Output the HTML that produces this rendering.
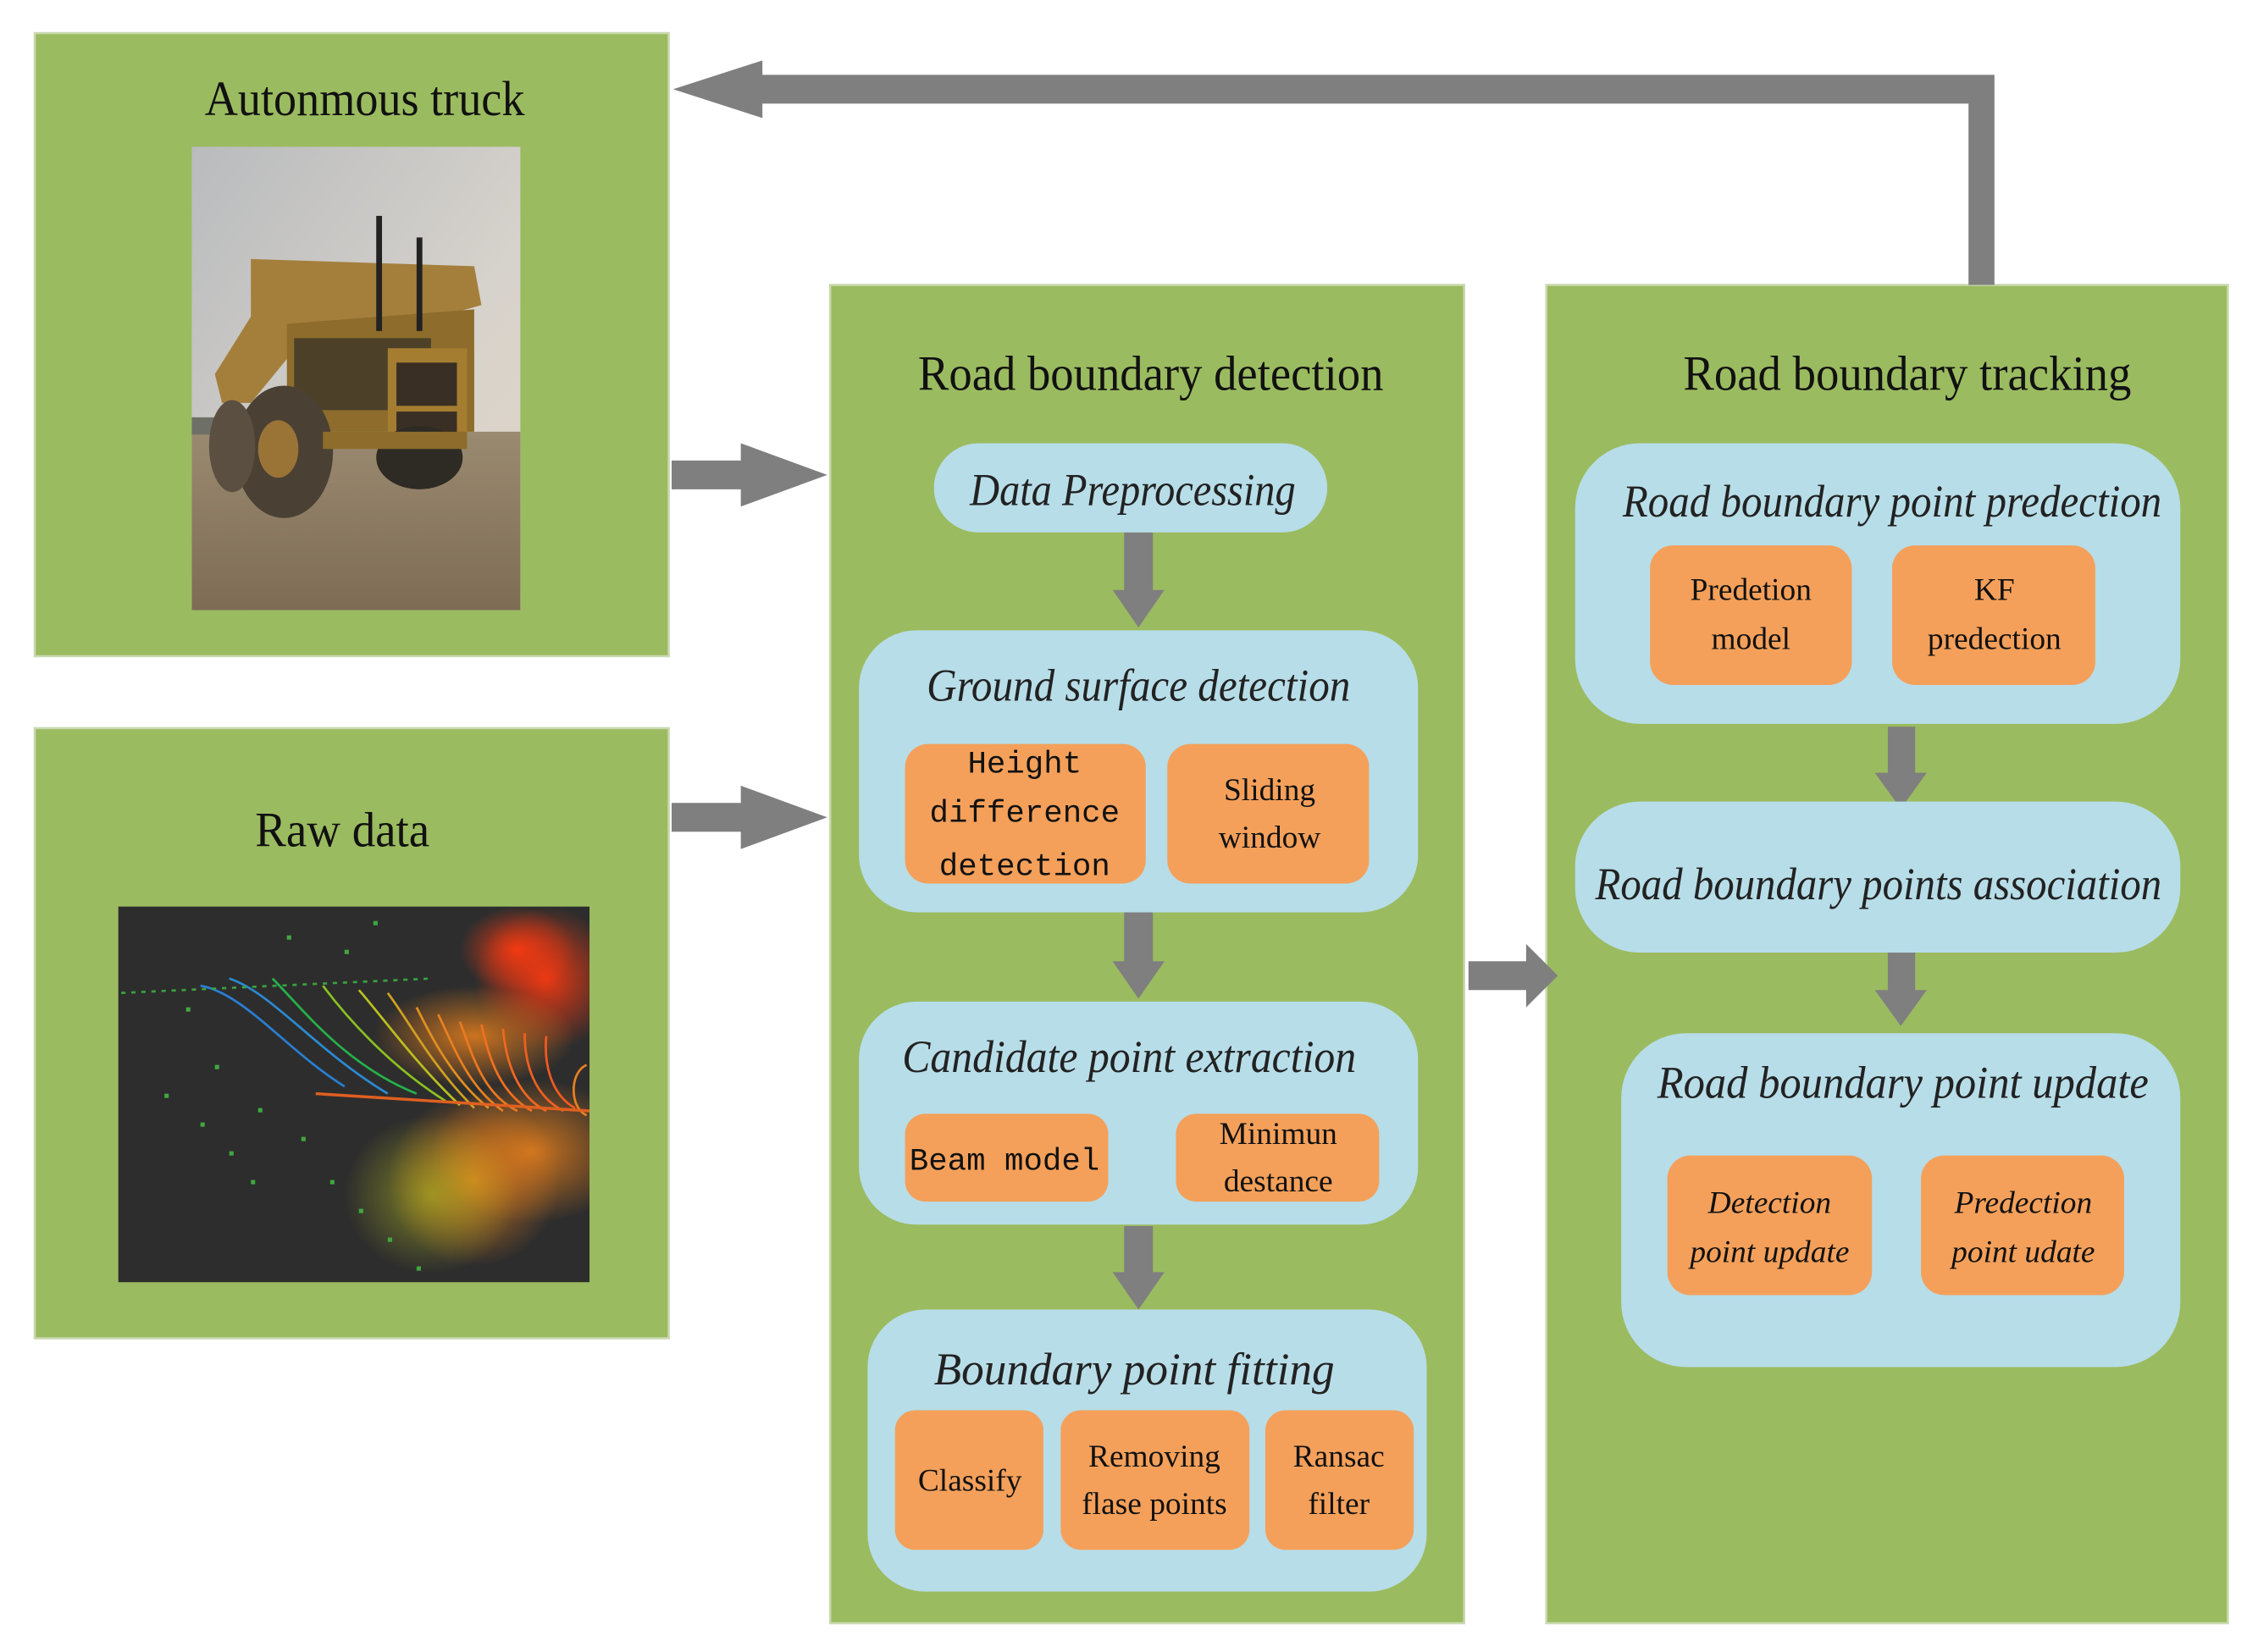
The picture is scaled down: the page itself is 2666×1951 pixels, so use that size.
<!DOCTYPE html>
<html><head><meta charset="utf-8"><style>
html,body{margin:0;padding:0;background:#fff;}
svg{display:block;}
text{font-family:"Liberation Serif",serif;fill:#111;}
.t{font-size:34px;}
.i{font-size:32px;font-style:italic;fill:#222;}
.o{font-size:22px;}
</style></head><body>
<svg width="2666" height="1951" viewBox="0.9 0 1567 1148" preserveAspectRatio="none" xmlns="http://www.w3.org/2000/svg">
<defs>
<linearGradient id="sky" x1="0" y1="0" x2="1" y2="1"><stop offset="0" stop-color="#b9bbbd"/><stop offset="0.6" stop-color="#d6d2cc"/><stop offset="1" stop-color="#e3d6c6"/></linearGradient>
<linearGradient id="gr" x1="0" y1="0" x2="0" y2="1"><stop offset="0" stop-color="#9a8a70"/><stop offset="1" stop-color="#7e6c55"/></linearGradient>
<radialGradient id="red" cx="0.5" cy="0.5" r="0.5"><stop offset="0" stop-color="#ff3a10" stop-opacity="0.9"/><stop offset="1" stop-color="#ff3a10" stop-opacity="0"/></radialGradient>
<radialGradient id="org" cx="0.5" cy="0.5" r="0.5"><stop offset="0" stop-color="#e8801c" stop-opacity="0.85"/><stop offset="1" stop-color="#e8801c" stop-opacity="0"/></radialGradient>
<radialGradient id="yel" cx="0.5" cy="0.5" r="0.5"><stop offset="0" stop-color="#b8c020" stop-opacity="0.6"/><stop offset="1" stop-color="#b8c020" stop-opacity="0"/></radialGradient>
<clipPath id="pc"><rect x="83" y="630" width="327" height="261"/></clipPath>
</defs>
<rect x="-10" y="-10" width="1600" height="1200" fill="#fff"/>
<g fill="#9bbb60" stroke="#c9d9b0" stroke-width="1.5">
<rect x="25" y="23" width="440" height="433"/>
<rect x="25" y="506" width="440" height="424"/>
<rect x="577" y="198" width="440" height="930"/>
<rect x="1074" y="198" width="473" height="930"/>
</g>
<rect x="134" y="102" width="228" height="322" fill="url(#sky)"/>
<rect x="134" y="300" width="228" height="124" fill="url(#gr)"/>
<rect x="134" y="290" width="30" height="12" fill="#6e7068"/>
<polygon points="175,180 330,185 335,212 300,222 220,225 175,280 155,280 150,260 175,220" fill="#a47f3c"/>
<polygon points="200,225 330,215 330,300 200,300" fill="#8d6c2c"/>
<rect x="205" y="235" width="95" height="50" fill="#3d3628" opacity="0.8"/>
<rect x="270" y="242" width="55" height="70" fill="#a57d30"/>
<rect x="276" y="252" width="42" height="30" fill="#3a2f24"/>
<rect x="276" y="286" width="42" height="22" fill="#3a2f24"/>
<rect x="262" y="150" width="4" height="80" fill="#222"/>
<rect x="290" y="165" width="4" height="65" fill="#222"/>
<ellipse cx="198" cy="314" rx="34" ry="46" fill="#4a4034"/>
<ellipse cx="194" cy="312" rx="14" ry="20" fill="#9a7436"/>
<ellipse cx="162" cy="310" rx="16" ry="32" fill="#5a4f40"/>
<ellipse cx="292" cy="318" rx="30" ry="22" fill="#2e2a24"/>
<rect x="225" y="300" width="100" height="12" fill="#8d6c2c"/>
<rect x="83" y="630" width="327" height="261" fill="#2d2d2d"/>
<g clip-path="url(#pc)">
<ellipse cx="380" cy="680" rx="50" ry="50" fill="url(#red)"/>
<ellipse cx="360" cy="660" rx="40" ry="30" fill="url(#red)"/>
<ellipse cx="370" cy="800" rx="70" ry="50" fill="url(#org)"/>
<ellipse cx="330" cy="820" rx="60" ry="60" fill="url(#org)"/>
<ellipse cx="300" cy="830" rx="60" ry="55" fill="url(#yel)"/>
<ellipse cx="330" cy="720" rx="70" ry="35" fill="url(#org)"/>
<g fill="none" stroke-width="1.6">
<path d="M140,685 C170,690 200,730 240,755" stroke="#2a7ed0"/>
<path d="M160,680 C190,690 220,730 270,760" stroke="#2a8ad0"/>
<path d="M190,680 C210,700 240,740 290,760" stroke="#26b04a"/>
<path d="M225,685 C240,705 270,740 310,765" stroke="#8ac020"/>
<path d="M250,688 C265,705 290,740 320,768" stroke="#b8c020"/>
<path d="M270,690 C285,710 300,740 330,770" stroke="#d0a020"/>
<path d="M290,700 C300,720 315,750 340,770" stroke="#e09020"/>
<path d="M305,705 C315,725 325,755 350,772" stroke="#e88020"/>
<path d="M320,710 C328,730 335,760 360,772" stroke="#ec7820"/>
<path d="M335,712 C340,735 348,760 370,772" stroke="#f07020"/>
<path d="M350,715 C352,738 360,762 380,772" stroke="#f06820"/>
<path d="M365,718 C365,740 372,762 392,772" stroke="#f06020"/>
<path d="M380,720 C378,742 385,762 400,770" stroke="#f05a20"/>
<path d="M408,740 C396,745 396,770 408,775" stroke="#e88020"/>
<path d="M85,690 L300,680" stroke="#3aa040" stroke-dasharray="3 4"/>
<path d="M220,760 L410,772" stroke="#e06020" stroke-width="2"/>
</g>
<g fill="#3fa840">
<rect x="130" y="700" width="3" height="3"/><rect x="150" y="740" width="3" height="3"/><rect x="115" y="760" width="3" height="3"/>
<rect x="180" y="770" width="3" height="3"/><rect x="210" y="790" width="3" height="3"/><rect x="160" y="800" width="3" height="3"/>
<rect x="230" y="820" width="3" height="3"/><rect x="250" y="840" width="3" height="3"/><rect x="200" y="650" width="3" height="3"/>
<rect x="240" y="660" width="3" height="3"/><rect x="260" y="640" width="3" height="3"/><rect x="175" y="820" width="3" height="3"/>
<rect x="270" y="860" width="3" height="3"/><rect x="290" y="880" width="3" height="3"/><rect x="140" y="780" width="3" height="3"/>
</g>
</g>
<g fill="#7f7f7f">
<polygon points="1367,198 1385,198 1385,52 530,52 530,42 468,62 530,82 530,72 1367,72"/>
<polygon points="467,320 515,320 515,308 575,330 515,352 515,340 467,340"/>
<polygon points="467,558 515,558 515,546 575,568 515,590 515,578 467,578"/>
<polygon points="1020,668 1060,668 1060,656 1082,678 1060,700 1060,688 1020,688"/>
<polygon points="781,370 801,370 801,410 809,410 791,436 773,410 781,410"/>
<polygon points="781,634 801,634 801,668 809,668 791,694 773,668 781,668"/>
<polygon points="781,852 801,852 801,884 809,884 791,910 773,884 781,884"/>
<polygon points="1311,505 1330,505 1330,537 1338,537 1320,562 1302,537 1311,537"/>
<polygon points="1311,655 1330,655 1330,688 1338,688 1320,713 1302,688 1311,688"/>
</g>
<g fill="#b7dde8">
<rect x="649" y="308" width="273" height="62" rx="31"/>
<rect x="597" y="438" width="388" height="196" rx="40"/>
<rect x="597" y="696" width="388" height="155" rx="40"/>
<rect x="603" y="910" width="388" height="196" rx="40"/>
<rect x="1094" y="308" width="420" height="195" rx="45"/>
<rect x="1094" y="557" width="420" height="105" rx="45"/>
<rect x="1126" y="718" width="388" height="232" rx="45"/>
</g>
<g fill="#f4a05a">
<rect x="629" y="517" width="167" height="97" rx="16"/>
<rect x="811" y="517" width="140" height="97" rx="16"/>
<rect x="629" y="774" width="141" height="61" rx="14"/>
<rect x="817" y="774" width="141" height="61" rx="14"/>
<rect x="622" y="980" width="103" height="97" rx="14"/>
<rect x="737" y="980" width="131" height="97" rx="14"/>
<rect x="879" y="980" width="103" height="97" rx="14"/>
<rect x="1146" y="379" width="140" height="97" rx="16"/>
<rect x="1314" y="379" width="141" height="97" rx="16"/>
<rect x="1158" y="803" width="142" height="97" rx="16"/>
<rect x="1334" y="803" width="141" height="97" rx="16"/>
</g>
<text class="t" x="143" y="80" textLength="222" lengthAdjust="spacingAndGlyphs">Autonmous truck</text>
<text class="t" x="178" y="588" textLength="121" lengthAdjust="spacingAndGlyphs">Raw data</text>
<text class="t" x="638" y="271" textLength="323" lengthAdjust="spacingAndGlyphs">Road boundary detection</text>
<text class="t" x="1169" y="271" textLength="311" lengthAdjust="spacingAndGlyphs">Road boundary tracking</text>
<text class="i" x="674" y="351" textLength="226" lengthAdjust="spacingAndGlyphs">Data Preprocessing</text>
<text class="i" x="644" y="487" textLength="294" lengthAdjust="spacingAndGlyphs">Ground surface detection</text>
<text class="i" x="627" y="745" textLength="315" lengthAdjust="spacingAndGlyphs">Candidate point extraction</text>
<text class="i" x="649" y="962" textLength="278" lengthAdjust="spacingAndGlyphs">Boundary  point  fitting</text>
<text class="i" x="1127" y="359" textLength="374" lengthAdjust="spacingAndGlyphs">Road boundary point predection</text>
<text class="i" x="1108" y="625" textLength="393" lengthAdjust="spacingAndGlyphs">Road boundary points association</text>
<text class="i" x="1151" y="763" textLength="341" lengthAdjust="spacingAndGlyphs">Road boundary  point update</text>
<g class="o" text-anchor="middle">
<text x="712" y="537" style="font-family:'Liberation Mono',monospace">Height</text>
<text x="712" y="571" style="font-family:'Liberation Mono',monospace">difference</text>
<text x="712" y="608" style="font-family:'Liberation Mono',monospace">detection</text>
<text x="882" y="556">Sliding</text>
<text x="882" y="589">window</text>
<text x="698" y="813" style="font-family:'Liberation Mono',monospace">Beam model</text>
<text x="888" y="795">Minimun</text>
<text x="888" y="828">destance</text>
<text x="674" y="1036">Classify</text>
<text x="802" y="1019">Removing</text>
<text x="802" y="1052">flase points</text>
<text x="930" y="1019">Ransac</text>
<text x="930" y="1052">filter</text>
<text x="1216" y="417">Predetion</text>
<text x="1216" y="451">model</text>
<text x="1385" y="417">KF</text>
<text x="1385" y="451">predection</text>
<text x="1229" y="843" font-style="italic">Detection</text>
<text x="1229" y="877" font-style="italic">point update</text>
<text x="1405" y="843" font-style="italic">Predection</text>
<text x="1405" y="877" font-style="italic">point udate</text>
</g>
</svg>
</body></html>
